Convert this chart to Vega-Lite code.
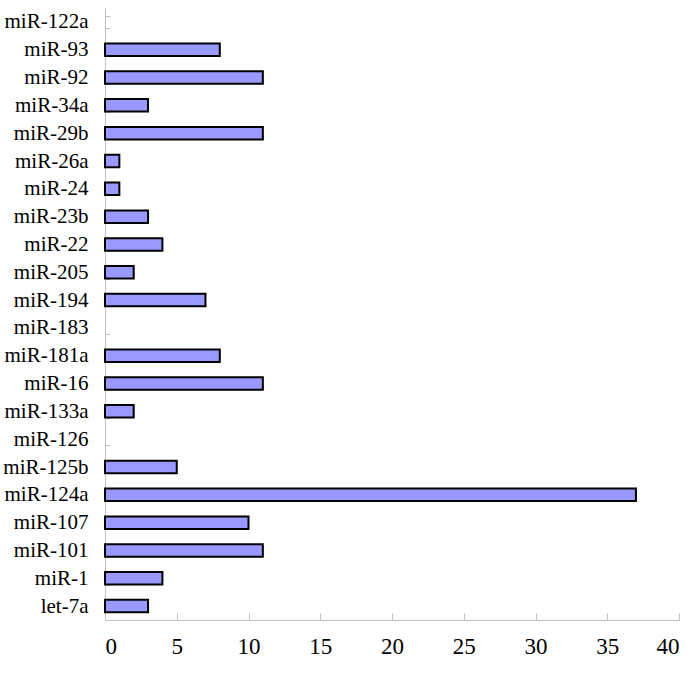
{
  "$schema": "https://vega.github.io/schema/vega-lite/v6.json",
  "autosize": {"type": "none"},
  "width": 574,
  "height": 612,
  "padding": {"left": 105, "top": 8, "right": 20, "bottom": 53},
  "background": "white",
  "config": {"view": {"stroke": null}},
  "data": {"values": [
    {"mirna": "let-7a", "value": 3},
    {"mirna": "miR-1", "value": 4},
    {"mirna": "miR-101", "value": 11},
    {"mirna": "miR-107", "value": 10},
    {"mirna": "miR-124a", "value": 37},
    {"mirna": "miR-125b", "value": 5},
    {"mirna": "miR-126", "value": 0},
    {"mirna": "miR-133a", "value": 2},
    {"mirna": "miR-16", "value": 11},
    {"mirna": "miR-181a", "value": 8},
    {"mirna": "miR-183", "value": 0},
    {"mirna": "miR-194", "value": 7},
    {"mirna": "miR-205", "value": 2},
    {"mirna": "miR-22", "value": 4},
    {"mirna": "miR-23b", "value": 3},
    {"mirna": "miR-24", "value": 1},
    {"mirna": "miR-26a", "value": 1},
    {"mirna": "miR-29b", "value": 11},
    {"mirna": "miR-34a", "value": 3},
    {"mirna": "miR-92", "value": 11},
    {"mirna": "miR-93", "value": 8},
    {"mirna": "miR-122a", "value": 0}
  ]},
  "mark": {"type": "bar", "fill": "#9999ff", "stroke": "black", "strokeWidth": 2, "cornerRadius": 0},
  "encoding": {
    "y": {
      "field": "mirna", "type": "nominal", "title": null,
      "sort": ["miR-122a", "miR-93", "miR-92", "miR-34a", "miR-29b", "miR-26a", "miR-24", "miR-23b", "miR-22", "miR-205", "miR-194", "miR-183", "miR-181a", "miR-16", "miR-133a", "miR-126", "miR-125b", "miR-124a", "miR-107", "miR-101", "miR-1", "let-7a"],
      "scale": {"paddingInner": 0.55, "paddingOuter": 0.275},
      "axis": {
        "domainColor": "#c0c0c0", "domainWidth": 1,
        "tickColor": "#c0c0c0", "tickSize": -5, "tickBand": "extent",
        "labelFont": "Liberation Serif", "labelFontSize": 21, "labelColor": "black",
        "labelPadding": 22, "grid": false
      }
    },
    "x": {
      "field": "value", "type": "quantitative", "title": null,
      "scale": {"domain": [0, 40], "nice": false},
      "axis": {
        "values": [0, 5, 10, 15, 20, 25, 30, 35, 40],
        "domainColor": "#c0c0c0", "domainWidth": 1,
        "tickColor": "#c0c0c0", "tickSize": -7,
        "labelFont": "Liberation Serif", "labelFontSize": 23, "labelColor": "black",
        "labelPadding": 22, "grid": false
      }
    },
    "strokeOpacity": {"condition": {"test": "datum.value > 0", "value": 1}, "value": 0}
  }
}
